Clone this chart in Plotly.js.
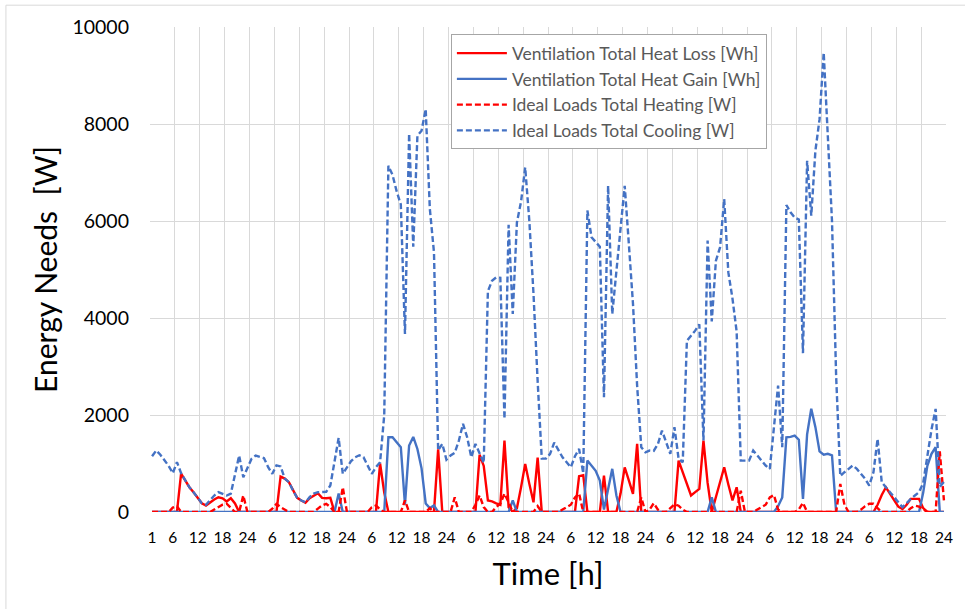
<!DOCTYPE html>
<html>
<head>
<meta charset="utf-8">
<script src="https://cdn.plot.ly/plotly-3.0.1.min.js"></script>
<style>html,body{margin:0;padding:0;background:#fff;}#chart{width:965px;height:609px;}</style>
</head>
<body>
<div id="chart"></div>
<script>
// Hour index 1..192 (8 days x 24 h)
const hours = Array.from({length: 192}, (_, i) => i + 1);

// Tick labels (hour-of-day) placed at hours 1, 6, 12, 18, 24, 30, ...
const tickHours = [1];
for (let d = 0; d < 8; d++) { tickHours.push(d * 24 + 6, d * 24 + 12, d * 24 + 18, d * 24 + 24); }
const tickLabels = tickHours.map(h => String(h === 1 ? 1 : ((h - 1) % 24) + 1));

// Ventilation Total Heat Loss [Wh]
const heatLoss = [
  0,0,0,0,0,0,0,790,650,511,408,305,181,134,202,257,305,284,216,284,175,0,0,0,
  0,0,0,0,0,0,0,730,690,614,443,292,237,189,284,340,388,292,284,292,0,0,0,0,
  0,0,0,0,0,0,0,1000,400,0,0,0,0,0,0,0,0,0,0,0,0,1290,0,0,
  0,0,0,0,0,0,0,1180,950,237,220,180,150,1473,100,0,80,511,992,580,200,1120,0,0,
  0,0,0,0,0,0,0,740,760,0,0,0,0,750,0,0,0,380,920,650,375,1405,0,0,
  0,0,0,0,0,0,0,1060,830,567,340,410,478,1473,600,0,300,620,923,567,240,510,0,0,
  0,0,0,0,0,0,0,0,0,0,0,0,0,0,0,0,0,0,0,0,0,0,0,0,
  0,0,0,0,0,0,0,150,350,510,380,250,110,60,150,270,275,270,80,0,0,0,0,0
];

// Ventilation Total Heat Gain [Wh]
const heatGain = [
  0,0,0,0,0,0,0,0,0,0,0,0,0,0,0,0,0,0,0,0,0,0,0,0,
  0,0,0,0,0,0,0,0,0,0,0,0,0,0,0,0,0,0,0,0,0,380,0,0,
  0,0,0,0,0,0,0,0,0,1540,1541,1438,1335,150,1370,1548,1300,900,175,80,134,0,0,0,
  0,0,0,0,0,0,0,0,0,0,0,0,0,0,0,240,0,0,0,0,0,0,0,0,
  0,0,0,0,0,0,0,0,0,1060,950,850,650,50,470,890,340,0,0,0,0,0,0,0,
  0,0,0,0,0,0,0,0,0,0,0,0,0,0,0,300,0,0,0,0,0,0,0,0,
  0,0,0,0,0,0,0,120,300,1541,1550,1576,1490,272,1600,2130,1750,1250,1180,1200,1170,0,0,0,
  0,0,0,0,0,0,0,0,0,0,0,0,0,0,0,0,0,0,400,950,1200,1335,0,0
];

// Ideal Loads Total Heating [W]
const idealHeating = [
  0,0,0,0,0,90,120,0,0,0,0,0,0,0,0,50,100,150,170,80,0,0,340,0,
  0,0,0,0,0,70,168,100,50,0,0,0,0,0,0,0,70,134,168,100,0,0,510,0,
  0,0,0,0,0,100,134,50,0,0,0,0,0,240,0,0,0,0,0,80,0,0,0,0,
  0,300,0,0,0,0,150,340,100,0,0,100,170,380,200,0,0,0,0,0,0,120,0,0,
  0,0,0,50,100,150,300,380,0,0,0,0,0,0,0,0,0,0,0,0,0,0,300,0,
  50,180,50,0,0,80,160,130,50,0,0,0,0,0,0,0,0,0,0,0,0,0,440,0,
  0,0,50,100,150,300,350,50,0,0,0,0,50,190,0,0,0,0,0,0,0,0,580,150,
  0,0,0,50,120,170,170,80,0,0,0,0,0,0,0,80,130,110,50,0,0,0,1250,240
];

// Ideal Loads Total Cooling [W]
const idealCooling = [
  1150,1267,1180,1060,950,800,1030,800,650,511,408,305,181,150,257,340,408,380,340,380,750,1164,717,896,
  1100,1164,1143,1110,923,787,960,940,690,614,443,292,237,200,305,380,408,408,415,546,1000,1528,787,923,
  1050,1129,1170,1129,958,787,923,1026,2000,7138,6950,6610,6340,3670,7800,5470,7760,7860,8306,6250,5350,1270,1405,1080,
  1164,1220,1473,1817,1541,1129,1405,1198,1010,4550,4769,4837,4830,1920,5920,4083,5970,6400,7105,6000,4500,2700,1100,1100,
  1198,1430,1267,1129,1026,923,1150,1300,800,6216,5665,5558,5470,2365,6726,4083,4975,5866,6726,5530,4290,2600,1335,1232,
  1267,1260,1400,1679,1440,1198,1747,1100,1026,3530,3636,3739,3870,1473,5595,3930,5183,5455,6452,4940,4400,3720,1060,1060,
  1060,1267,1164,1060,958,889,1700,2606,1335,6330,6180,6073,6030,3275,7240,6110,7450,8100,9472,7700,6005,2800,740,820,
  889,958,889,787,684,546,820,1508,614,510,410,305,200,99,180,272,340,408,600,1200,1700,2126,520,620
];

const RED = '#FF0000';
const BLUE = '#4472C4';
const DASH = '6px,3px';

const traces = [
  {x: hours, y: heatLoss, name: 'Ventilation Total Heat Loss [Wh]', type: 'scatter', mode: 'lines',
   line: {color: RED, width: 2.4}},
  {x: hours, y: heatGain, name: 'Ventilation Total Heat Gain [Wh]', type: 'scatter', mode: 'lines',
   line: {color: BLUE, width: 2.4}},
  {x: hours, y: idealHeating, name: 'Ideal Loads Total Heating [W]', type: 'scatter', mode: 'lines',
   line: {color: RED, width: 2.4, dash: DASH}},
  {x: hours, y: idealCooling, name: 'Ideal Loads Total Cooling [W]', type: 'scatter', mode: 'lines',
   line: {color: BLUE, width: 2.4, dash: DASH}}
];

const FONT = 'Lato, "Open Sans", "Liberation Sans", sans-serif';

const layout = {
  width: 965, height: 609,
  margin: {l: 150, r: 19, t: 27, b: 97},
  paper_bgcolor: '#ffffff', plot_bgcolor: '#ffffff',
  font: {family: FONT, color: '#000000'},
  showlegend: true,
  legend: {
    x: 0.378, y: 0.985, xanchor: 'left', yanchor: 'top',
    bgcolor: '#ffffff', bordercolor: '#a6a6a6', borderwidth: 1,
    itemwidth: 50,
    font: {family: FONT, size: 17.5, color: '#595959'}
  },
  xaxis: {
    range: [0.5, 192.5], tickmode: 'array', tickvals: tickHours, ticktext: tickLabels,
    showgrid: false, zeroline: false, showline: false, ticks: '',
    tickfont: {family: FONT, size: 15.5, color: '#000000'},
    ticklabelstandoff: 14,
    minor: {tick0: 0.5, dtick: 6, showgrid: true, gridcolor: '#d9d9d9', gridwidth: 1, ticks: ''},
    title: {text: 'Time [h]', font: {family: FONT, size: 31, color: '#000000'}, standoff: 18}
  },
  yaxis: {
    range: [0, 10000], dtick: 2000, tick0: 0, tickformat: 'd',
    showgrid: true, gridcolor: '#d9d9d9', gridwidth: 1, zeroline: false, showline: false, ticks: '',
    tickfont: {family: FONT, size: 19.5, color: '#000000'},
    ticklabelstandoff: 20,
    title: {text: 'Energy Needs\u00a0 [W]', font: {family: FONT, size: 30, color: '#000000'}, standoff: 5}
  },
  shapes: [
    {type: 'line', xref: 'paper', yref: 'paper', x0: -0.181, x1: 1.05, y0: 1.045, y1: 1.045,
     line: {color: '#d9d9d9', width: 1}},
    {type: 'line', xref: 'paper', yref: 'paper', x0: -0.181, x1: -0.181, y0: -0.25, y1: 1.045,
     line: {color: '#d9d9d9', width: 1}}
  ]
};

Plotly.newPlot('chart', traces, layout, {displayModeBar: false, staticPlot: true});
</script>
</body>
</html>
